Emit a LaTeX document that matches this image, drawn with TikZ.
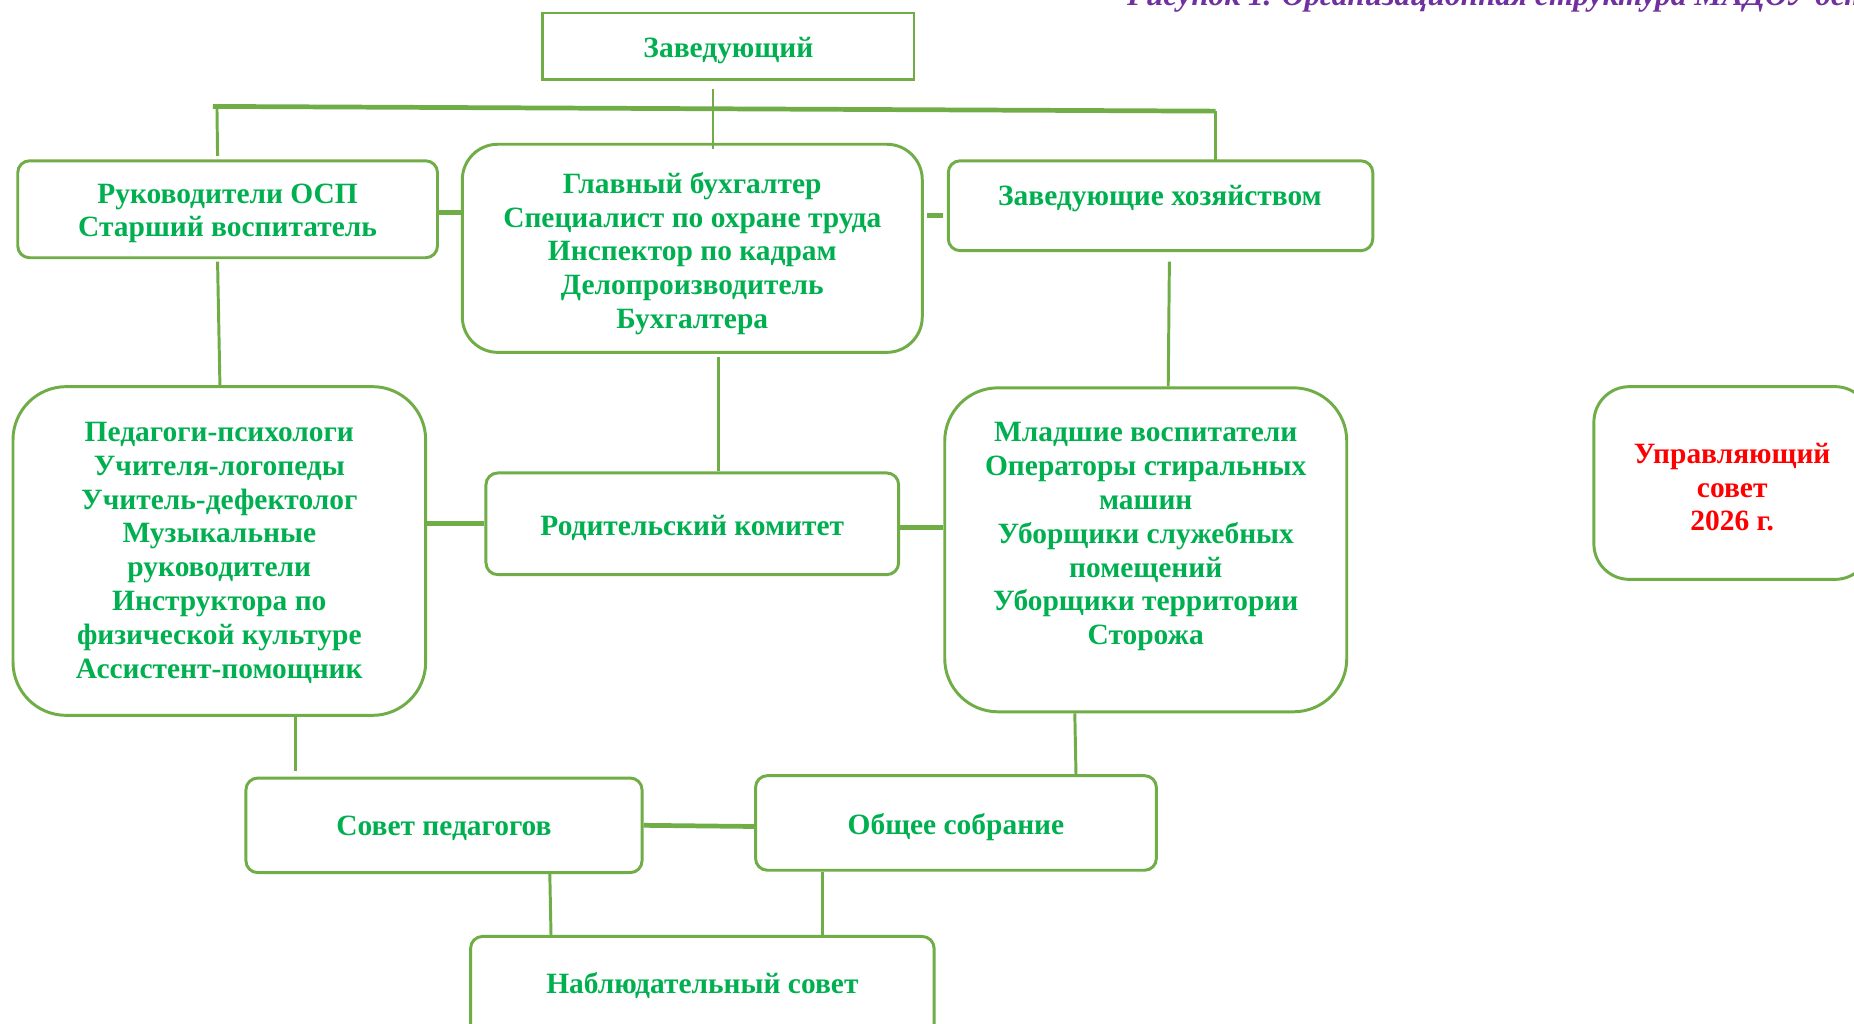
\documentclass[tikz,border=0pt]{standalone}
\usepackage{fontspec}
\setmainfont{Liberation Serif}
\usetikzlibrary{calc}
\definecolor{boxgreen}{HTML}{70AD47}
\definecolor{txtgreen}{HTML}{00B050}
\definecolor{txtred}{HTML}{FF0000}
\definecolor{titlepurple}{HTML}{7030A0}
\begin{document}
\begin{tikzpicture}[x=1pt,y=-1pt,
  box/.style={draw=boxgreen,line width=2.5pt,inner sep=0pt,fill=white},
  lbl/.style={text=txtgreen,font=\bfseries\fontsize{24.9}{28.6}\selectfont,align=center,inner sep=0pt},
  conn/.style={draw=boxgreen,line width=2.5pt},
  tconn/.style={draw=boxgreen,line width=4pt}]
\clip (0,0) rectangle (1568,866);
\fill[white] (0,0) rectangle (1568,866);
% title (cut off by the page edge, as in the reference)
\node[anchor=base west,inner sep=0pt,text=titlepurple,font=\bfseries\itshape\fontsize{26.5}{30}\selectfont] (title) at (953,5) {Рисунок 1. Организационная структура МАДОУ детский сад};
% boxes
\node[box,minimum width=314pt,minimum height=56pt] (b1) at (616,39) {};
\node[box,rounded corners=10pt,minimum width=355pt,minimum height=82pt] (b2) at (192.5,177) {};
\node[box,rounded corners=30pt,minimum width=389pt,minimum height=176pt] (b3) at (585.5,210) {};
\node[box,rounded corners=10pt,minimum width=359pt,minimum height=76pt] (b4) at (981.5,174) {};
\node[box,rounded corners=45pt,minimum width=349pt,minimum height=278pt] (b5) at (185.5,466) {};
\node[box,rounded corners=10pt,minimum width=349pt,minimum height=86pt] (b6) at (585.5,443) {};
\node[box,rounded corners=45pt,minimum width=340pt,minimum height=274pt] (b7) at (969,465) {};
\node[box,rounded corners=30pt,minimum width=234pt,minimum height=163pt] (b8) at (1465,408.5) {};
\node[box,rounded corners=10pt,minimum width=335pt,minimum height=80pt] (b9) at (375.5,698) {};
\node[box,rounded corners=10pt,minimum width=339pt,minimum height=80pt] (b10) at (808.5,696) {};
\node[box,rounded corners=10pt,minimum width=392pt,minimum height=86pt] (b11) at (594,835) {};
% texts
\node[lbl] (t1) at (616,42.5) {Заведующий};
\node[lbl] (t2) at (192.5,180.5) {Руководители ОСП\\Старший воспитатель};
\node[lbl] (t3) at (585.5,214.5) {Главный бухгалтер\\Специалист по охране труда\\Инспектор по кадрам\\Делопроизводитель\\Бухгалтера};
\node[lbl] (t4) at (981,167.5) {Заведующие хозяйством};
\node[lbl] (t5) at (185.5,467.5) {Педагоги-психологи\\Учителя-логопеды\\Учитель-дефектолог\\Музыкальные\\руководители\\Инструктора по\\физической культуре\\Ассистент-помощник};
\node[lbl] (t6) at (585.5,446.5) {Родительский комитет};
\node[lbl] (t7) at (969,454) {Младшие воспитатели\\Операторы стиральных\\машин\\Уборщики служебных\\помещений\\Уборщики территории\\Сторожа};
\node[lbl,text=txtred] (t8) at (1465,412) {Управляющий\\совет\\2026 г.};
\node[lbl] (t9) at (375.5,700.5) {Совет педагогов};
\node[lbl] (t10) at (808.5,699.5) {Общее собрание};
\node[lbl] (t11) at (594,833.5) {Наблюдательный совет};
% connectors
\coordinate (busL) at (180,90);
\coordinate (busR) at (1028,94);
\draw[tconn] (busL) -- (busR);
\draw[conn] ($(b1.south)+(-13,7)$) -- ($(b3.north)+(17.5,5)$);
\draw[conn] ($(b2.north)+(-9,-43)$) -- ($(b2.north)+(-8.5,-3)$);
\draw[conn] (busR) -- ($(b4.north)+(46.5,2)$);
\draw[tconn] ($(b2.east)+(0,3)$) -- ($(b3.west)+(0,-30)$);
\draw[tconn] ($(b3.east)+(3,-28)$) -- ($(b4.west)+(-3,8)$);
\draw[conn] ($(b2.south)+(-8.5,2)$) -- ($(b5.north)+(0.5,0)$);
\draw[conn] ($(b3.south)+(22.5,3)$) -- ($(b6.north)+(22.5,0)$);
\draw[conn] ($(b4.south)+(7.5,8)$) -- ($(b7.north)+(19,0)$);
\draw[tconn] ($(b5.east)+(0,-23)$) -- (b6.west);
\draw[tconn] ($(b6.east)+(0,3)$) -- ($(b7.west)+(0,-19)$);
\draw[conn] ($(b5.south)+(64.5,0)$) -- ($(b9.north)+(-125.5,-5)$);
\draw[conn] ($(b7.south)+(-60,0)$) -- ($(b10.north)+(101.5,0)$);
\draw[tconn] (b9.east) -- ($(b10.west)+(0,3)$);
\draw[conn] ($(b9.south)+(89.5,0)$) -- ($(b11.north)+(-128,0)$);
\draw[conn] ($(b10.south)+(-112.5,0)$) -- ($(b11.north)+(102,0)$);
\end{tikzpicture}
\end{document}
